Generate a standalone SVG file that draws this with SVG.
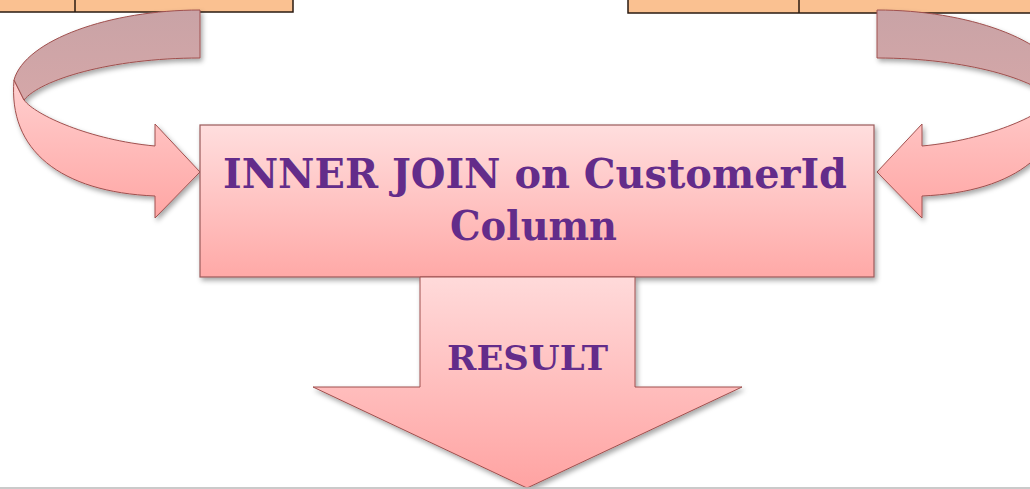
<svg xmlns="http://www.w3.org/2000/svg" width="1030" height="489" viewBox="0 0 1030 489">
  <defs>
    <linearGradient id="boxGrad" x1="0" y1="0" x2="0" y2="1">
      <stop offset="0" stop-color="#FFDEDE"/>
      <stop offset="1" stop-color="#FFA9A7"/>
    </linearGradient>
    <linearGradient id="frontGrad" x1="0" y1="0" x2="0" y2="1">
      <stop offset="0" stop-color="#FFCFCF"/>
      <stop offset="1" stop-color="#FFA6A4"/>
    </linearGradient>
    <linearGradient id="backGrad" x1="0" y1="0" x2="0" y2="1">
      <stop offset="0" stop-color="#C9A3A6"/>
      <stop offset="1" stop-color="#D5A7A8"/>
    </linearGradient>
    <linearGradient id="downGrad" x1="0" y1="0" x2="0" y2="1">
      <stop offset="0" stop-color="#FFDADA"/>
      <stop offset="1" stop-color="#FFA3A2"/>
    </linearGradient>
    <filter id="shadow" x="-10%" y="-10%" width="130%" height="130%">
      <feDropShadow dx="2" dy="3" stdDeviation="2.5" flood-color="#000" flood-opacity="0.35"/>
    </filter>
    <g id="curvedArrow">
      <path class="front" d="M14,80 C8,150 60,192 155,196 L155,218 L200,172 L155,124 L155,146 C90,140 35,115 24,100 Z"/>
      <path class="back" d="M200,10 C110,10 25,40 14,80 L24,100 C40,80 110,58 200,58 Z"/>
    </g>
  </defs>
  <style>
    .tbl { fill: #FAC191; stroke: #2A1A10; stroke-width: 1.5; }
    .tline { stroke: #2A1A10; stroke-width: 1.5; }
    .front { fill: url(#frontGrad); stroke: #A0504E; stroke-width: 1; }
    .back { fill: url(#backGrad); stroke: #A0504E; stroke-width: 1; }
    .lbl { font-family: "DejaVu Serif", "Liberation Serif", serif; font-weight: bold; fill: #632C8A; }
  </style>
  <rect width="1030" height="489" fill="#FFFFFF"/>

  <g id="table-left">
    <rect class="tbl" x="-2" y="-2" width="295" height="14"/>
    <line class="tline" x1="75" y1="-2" x2="75" y2="12"/>
  </g>
  <g id="table-right">
    <rect class="tbl" x="628" y="-2" width="405" height="15"/>
    <line class="tline" x1="799" y1="-2" x2="799" y2="13"/>
  </g>

  <g id="connectors">
    <g id="arrow-left" filter="url(#shadow)">
      <use href="#curvedArrow"/>
    </g>
    <g id="arrow-right" filter="url(#shadow)">
      <use href="#curvedArrow" transform="translate(1077,0) scale(-1,1)"/>
    </g>
  </g>

  <g id="join-box">
    <rect x="200" y="125" width="674" height="152" fill="url(#boxGrad)" stroke="#9A5A5A" stroke-width="1.2" filter="url(#shadow)"/>
    <text class="lbl" x="223" y="188" font-size="41" textLength="624" lengthAdjust="spacingAndGlyphs">INNER JOIN on CustomerId</text>
    <text class="lbl" x="450" y="240" font-size="41" textLength="167" lengthAdjust="spacingAndGlyphs">Column</text>
  </g>

  <g id="result-arrow">
    <path d="M420,277 L635,277 L635,387 L742,387 L527,488 L313,387 L420,387 Z" fill="url(#downGrad)" stroke="#A0504E" stroke-width="1" filter="url(#shadow)"/>
    <text class="lbl" x="447" y="370" font-size="34" textLength="161" lengthAdjust="spacingAndGlyphs">RESULT</text>
  </g>

  <line x1="0" y1="488" x2="1030" y2="488" stroke="#B8B8B8" stroke-width="1.5"/>
</svg>
